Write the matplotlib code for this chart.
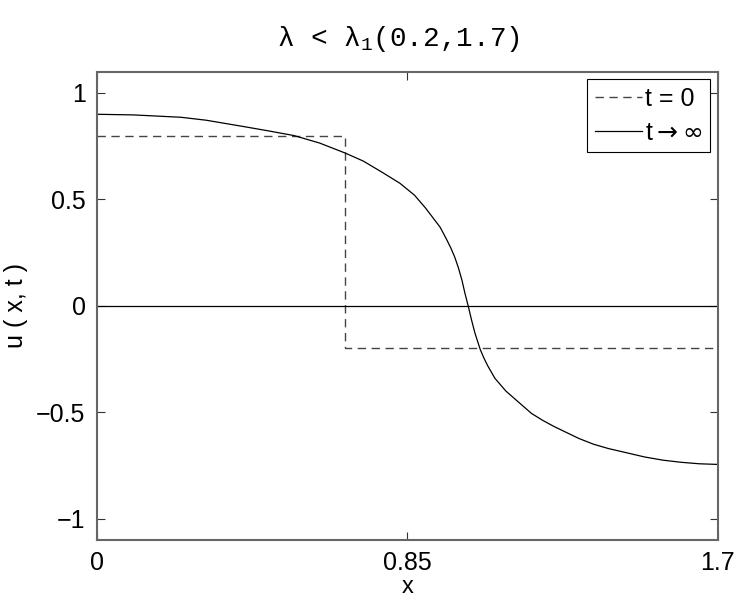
import matplotlib
matplotlib.use("Agg")
import matplotlib.pyplot as plt

# initial profile (t = 0): step down at x = 0.68
x_init = [0.0, 0.68, 0.68, 1.7]
u_init = [0.8, 0.8, -0.2, -0.2]

# steady state (t -> inf)
x_inf = [0.00, 0.10, 0.23, 0.30, 0.41, 0.47, 0.54, 0.61, 0.68, 0.73, 0.78, 0.83,
         0.87, 0.90, 0.92, 0.94, 0.95, 0.96, 0.97, 0.98, 0.99, 1.00, 1.008,
         1.017, 1.026, 1.035, 1.05, 1.06, 1.07, 1.08, 1.09, 1.10, 1.12, 1.13,
         1.15, 1.17, 1.19, 1.22, 1.25, 1.28, 1.32, 1.36, 1.40, 1.45, 1.50,
         1.55, 1.60, 1.65, 1.70]
u_inf = [0.90, 0.897, 0.886, 0.872, 0.84, 0.822, 0.80, 0.765, 0.718, 0.68, 0.629, 0.576,
         0.52, 0.46, 0.415, 0.37, 0.338, 0.305, 0.27, 0.23, 0.18, 0.12, 0.06,
         0.0, -0.065, -0.125, -0.205, -0.245, -0.28, -0.31, -0.34, -0.36, -0.40, -0.415,
         -0.445, -0.475, -0.505, -0.537, -0.565, -0.59, -0.623, -0.65, -0.67, -0.69, -0.71,
         -0.725, -0.735, -0.742, -0.745]

x_ticks = [0, 0.85, 1.7]
x_tick_labels = ['0', '0.85', '1.7']
y_ticks = [-1, -0.5, 0, 0.5, 1]
y_tick_labels = ['\u22121', '\u22120.5', '0', '0.5', '1']

plt.rcParams['font.family'] = ['Liberation Sans', 'DejaVu Sans']
plt.rcParams['mathtext.fontset'] = 'custom'
plt.rcParams['mathtext.rm'] = 'Liberation Mono'
plt.rcParams['mathtext.it'] = 'Liberation Mono'

fig = plt.figure(figsize=(7.42, 6.03), dpi=100)
ax = fig.add_axes([0.1303, 0.1045, 0.8369, 0.7766])

ax.plot(x_init, u_init, '--', color='#444444', lw=1.0, dashes=(6, 4), label='t = 0')
ax.plot(x_inf, u_inf, '-', color='black', lw=0.9, label=r't$\rightarrow\infty$')
ax.plot([0, 1.7], [0, 0], '-', color='black', lw=0.9)

ax.set_xlim(0, 1.7)
ax.set_ylim(-1.1, 1.1)
ax.set_xticks(x_ticks)
ax.set_xticklabels(x_tick_labels)
ax.set_yticks(y_ticks)
ax.set_yticklabels(y_tick_labels)
ax.tick_params(direction='in', length=6, width=0.8, top=True, right=True,
               labelsize=18, pad=8, color='#333333')
for s in ax.spines.values():
    s.set_color('#666666')
    s.set_linewidth(1.5)

ax.set_xlabel('x', fontsize=17, labelpad=1)
ax.set_ylabel('u ( x, t )', fontsize=18, labelpad=6)

fig.text(0.537, 0.935, r'$\lambda$ < $\lambda_1$(0.2,1.7)', fontsize=20,
         ha='center', va='center', family='Liberation Mono')

leg = ax.legend(loc='upper right', fontsize=18, frameon=True, fancybox=False,
                framealpha=1, edgecolor='black', handlelength=1.9,
                handletextpad=0.1, borderpad=0.3, labelspacing=0.4,
                borderaxespad=0.3)
leg.get_frame().set_linewidth(0.8)
for t in leg.get_texts():
    t.set_math_fontfamily('dejavusans')

fig.savefig('out.png', dpi=100)
